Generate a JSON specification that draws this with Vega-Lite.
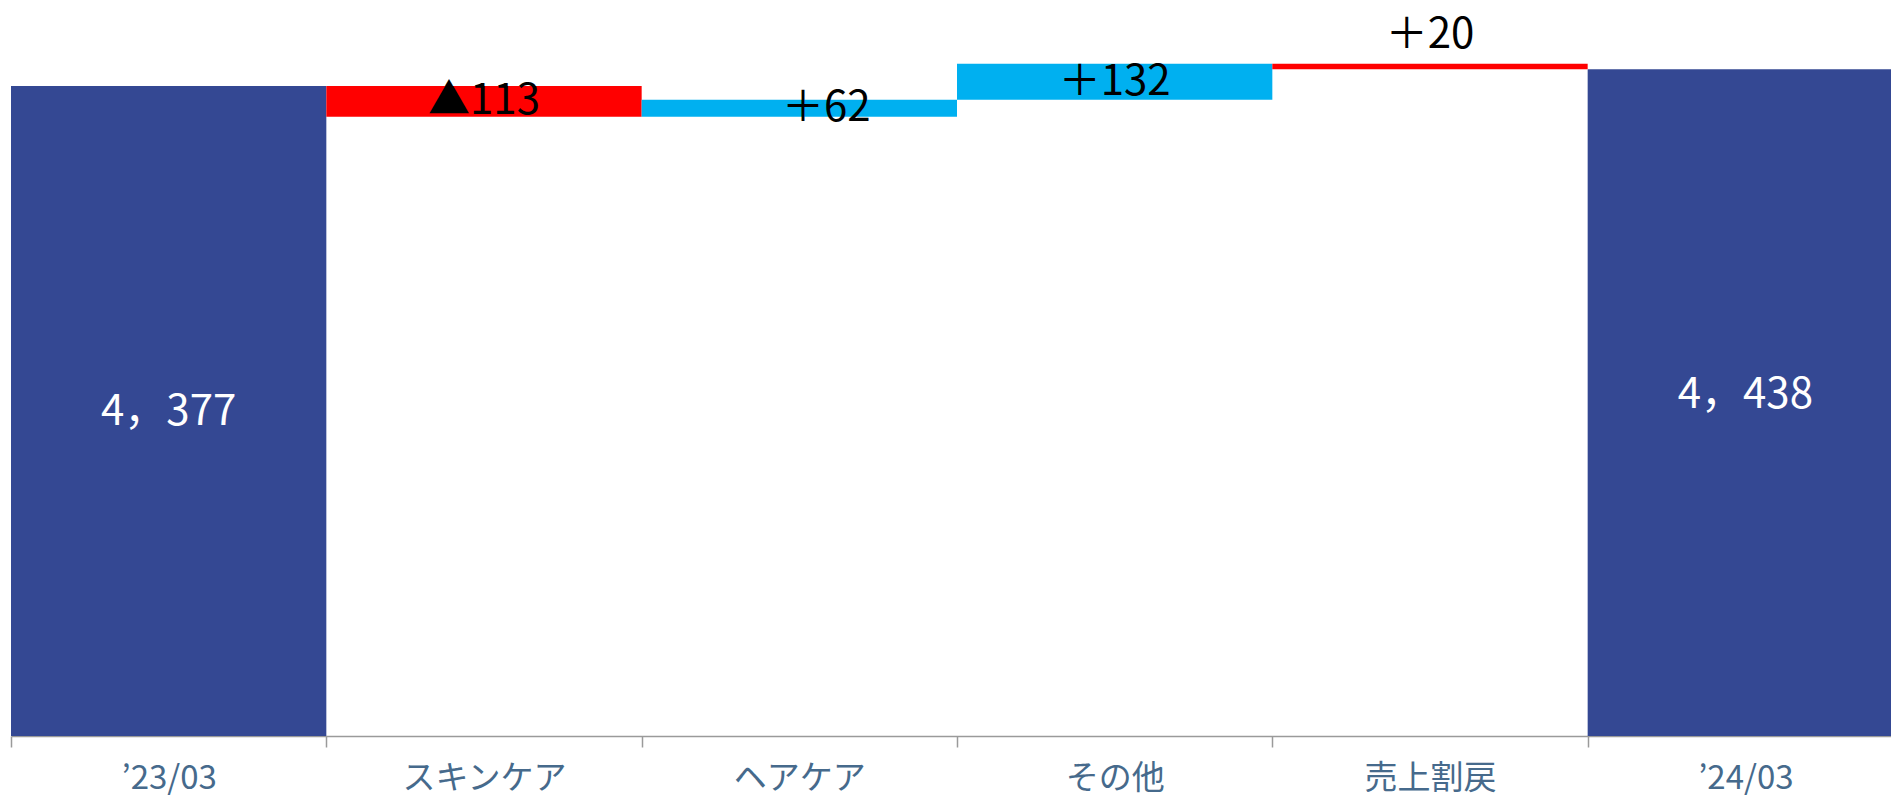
{
  "$schema": "https://vega.github.io/schema/vega-lite/v6.json",
  "width": 1892,
  "height": 736,
  "autosize": {"type": "none"},
  "padding": {"left": 11, "top": 0, "right": 0, "bottom": 64},
  "background": "white",
  "config": {
    "view": {"stroke": null},
    "font": "Noto Sans CJK JP",
    "axis": {
      "title": null,
      "labelAngle": 0,
      "tickBand": "extent",
      "domainColor": "#9a9a9a",
      "tickColor": "#9a9a9a",
      "domainWidth": 1.5,
      "tickWidth": 1.5,
      "tickSize": 11,
      "labelColor": "#466A8C",
      "labelFontSize": 33,
      "labelFont": "Noto Sans CJK JP",
      "labelPadding": 15,
      "labelOverlap": false,
      "grid": false
    }
  },
  "data": {
    "values": [
      {"cat": "’23/03", "start": 0, "end": 4377, "label": "4，377", "kind": "total"},
      {"cat": "スキンケア", "start": 4377, "end": 4264, "label": "▲113", "kind": "down"},
      {"cat": "ヘアケア", "start": 4264, "end": 4326, "label": "＋62", "kind": "up"},
      {"cat": "その他", "start": 4326, "end": 4458, "label": "＋132", "kind": "up"},
      {"cat": "売上割戻", "start": 4458, "end": 4438, "label": "＋20", "kind": "down"},
      {"cat": "’24/03", "start": 0, "end": 4438, "label": "4，438", "kind": "total"}
    ]
  },
  "encoding": {
    "x": {
      "field": "cat",
      "type": "nominal",
      "sort": null,
      "scale": {"paddingInner": 0, "paddingOuter": 0},
      "axis": {}
    }
  },
  "layer": [
    {
      "mark": {"type": "bar"},
      "encoding": {
        "y": {"field": "start", "type": "quantitative", "scale": {"domain": [2000, 4691], "zero": false, "clamp": true, "nice": false}, "axis": null},
        "y2": {"field": "end"},
        "color": {
          "field": "kind",
          "type": "nominal",
          "scale": {"domain": ["total", "down", "up"], "range": ["#344893", "#FF0000", "#00B0F0"]},
          "legend": null
        }
      }
    },
    {
      "transform": [{"filter": "datum.kind === 'total'"}],
      "mark": {"type": "text", "color": "white", "fontSize": 42, "baseline": "middle", "dy": 326},
      "encoding": {
        "y": {"field": "end", "type": "quantitative", "axis": null},
        "text": {"field": "label"}
      }
    },
    {
      "transform": [
        {"filter": {"field": "cat", "oneOf": ["スキンケア", "その他"]}},
        {"fold": ["start", "end"], "as": ["k", "v"]}
      ],
      "mark": {"type": "text", "color": "black", "fontSize": 42, "baseline": "middle"},
      "encoding": {
        "y": {"aggregate": "mean", "field": "v", "type": "quantitative", "axis": null},
        "text": {"field": "label"}
      }
    },
    {
      "transform": [
        {"filter": {"field": "cat", "equal": "ヘアケア"}},
        {"fold": ["start", "end"], "as": ["k", "v"]}
      ],
      "mark": {"type": "text", "color": "black", "fontSize": 42, "baseline": "middle", "dx": 27},
      "encoding": {
        "y": {"aggregate": "mean", "field": "v", "type": "quantitative", "axis": null},
        "text": {"field": "label"}
      }
    },
    {
      "transform": [{"filter": {"field": "cat", "equal": "売上割戻"}}],
      "mark": {"type": "text", "color": "black", "fontSize": 42, "baseline": "alphabetic", "dy": -16},
      "encoding": {
        "y": {"field": "start", "type": "quantitative", "axis": null},
        "text": {"field": "label"}
      }
    }
  ]
}
